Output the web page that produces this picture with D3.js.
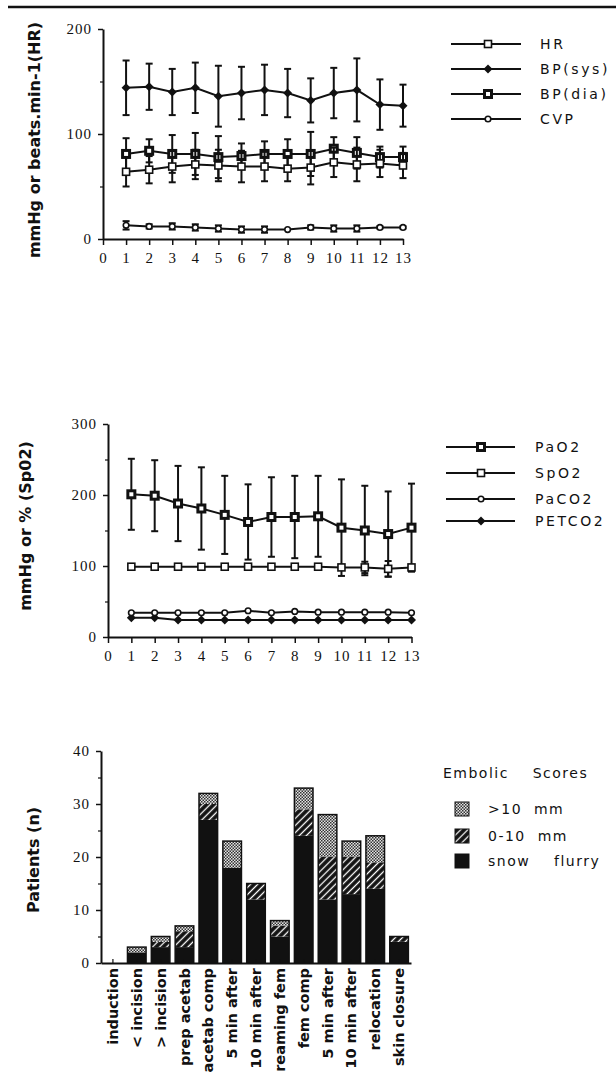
<!DOCTYPE html>
<html>
<head>
<meta charset="utf-8">
<script src="https://cdn.jsdelivr.net/npm/d3@7/dist/d3.min.js"></script>
<style>
  body { margin: 0; background: #fff; }
  svg { display: block; }
</style>
</head>
<body>
<svg id="chart"></svg>
<script>
// ---- data ----
const timePoints = [1, 2, 3, 4, 5, 6, 7, 8, 9, 10, 11, 12, 13];
const xTickValues = [0, 1, 2, 3, 4, 5, 6, 7, 8, 9, 10, 11, 12, 13];

// haemodynamics
const hrMean  = [64, 66, 69, 71, 70, 69, 69, 67, 68, 73, 71, 72, 70];
const hrErr   = [14, 13, 15, 14, 15, 15, 14, 12, 16, 14, 16, 13, 12];
const sysMean = [144, 145, 140, 144, 136, 139, 142, 139, 132, 139, 142, 128, 127];
const sysErr  = [26, 22, 22, 24, 29, 25, 24, 23, 21, 24, 30, 24, 20];
const diaMean = [81, 84, 81, 81, 78, 79, 81, 81, 81, 86, 82, 78, 78];
const diaErr  = [15, 11, 18, 20, 20, 12, 12, 14, 21, 11, 15, 10, 10];
const cvpMean = [13, 12, 12, 11, 10, 9, 9, 9, 11, 10, 10, 11, 11];
const cvpErr  = [4, 2, 3, 3, 3, 3, 3, 0, 2, 3, 3, 1, 1];
const topTicks = [0, 100, 200];
const topMinor = [50, 150];

// gases
const pao2Mean   = [201, 199, 188, 181, 172, 162, 169, 169, 170, 154, 150, 145, 154];
const pao2Err    = [50, 50, 53, 58, 55, 53, 56, 58, 57, 68, 63, 60, 62];
const spo2Mean   = [99, 99, 99, 99, 99, 99, 99, 99, 99, 98, 98, 96, 98];
const spo2Err    = [0, 0, 0, 0, 0, 0, 0, 0, 0, 3, 8, 11, 3];
const paco2Mean  = [34, 34, 34, 34, 34, 37, 34, 36, 35, 35, 35, 35, 34];
const petco2Mean = [27, 27, 24, 24, 24, 24, 24, 24, 24, 24, 24, 24, 24];
const midTicks = [0, 100, 200, 300];
const midMinor = [50, 150, 250];

// embolic scores
const stages = ["induction", "< incision", "> incision", "prep acetab", "acetab comp",
  "5 min after", "10 min after", "reaming fem", "fem comp", "5 min after",
  "10 min after", "relocation", "skin closure"];
const snowFlurry  = [0, 2, 3, 3, 27, 18, 12, 5, 24, 12, 13, 14, 4];
const score0to10  = [0, 0, 1, 3, 3, 0, 3, 2, 5, 8, 7, 5, 1];
const scoreOver10 = [0, 1, 1, 1, 2, 5, 0, 1, 4, 8, 3, 5, 0];
const barTicks = [0, 10, 20, 30, 40];
const barMinor = [5, 15, 25, 35];

// ---- setup ----
const width = 616, height = 1081;
const svg = d3.select("#chart").attr("width", width).attr("height", height);

const serif = "'Liberation Serif', 'DejaVu Serif', serif";
const sans = "'DejaVu Sans', sans-serif";

// patterns for stacked bars
const defs = svg.append("defs");
const hatch = defs.append("pattern").attr("id", "hatch")
  .attr("patternUnits", "userSpaceOnUse").attr("width", 5).attr("height", 5)
  .attr("patternTransform", "rotate(45)");
hatch.append("rect").attr("width", 5).attr("height", 5).attr("fill", "#111");
hatch.append("line").attr("x1", 2.5).attr("x2", 2.5).attr("y1", 0).attr("y2", 5)
  .attr("stroke", "#fff").attr("stroke-width", 1.3);

const stipple = defs.append("pattern").attr("id", "stipple")
  .attr("patternUnits", "userSpaceOnUse").attr("width", 3).attr("height", 3);
stipple.append("rect").attr("width", 3).attr("height", 3).attr("fill", "#e4e4e4");
stipple.append("rect").attr("width", 1.5).attr("height", 1.5).attr("fill", "#333");
stipple.append("rect").attr("x", 1.5).attr("y", 1.5).attr("width", 1.5).attr("height", 1.5).attr("fill", "#333");

// rule at the very top
svg.append("line").attr("x1", 8).attr("x2", width).attr("y1", 7).attr("y2", 7)
  .attr("stroke", "#111").attr("stroke-width", 2.5);

// marker helper
function addMarker(sel, type) {
  if (type === "open") {
    sel.append("rect").attr("x", -3.5).attr("y", -3.5).attr("width", 7).attr("height", 7)
      .attr("fill", "#fff").attr("stroke", "#111").attr("stroke-width", 1.6);
  } else if (type === "bold") {
    sel.append("rect").attr("x", -3.5).attr("y", -3.5).attr("width", 7).attr("height", 7)
      .attr("fill", "#fff").attr("stroke", "#111").attr("stroke-width", 3);
  } else if (type === "diamond") {
    sel.append("path").attr("d", "M0,-4.5L4.5,0L0,4.5L-4.5,0Z").attr("fill", "#111");
  } else {
    sel.append("circle").attr("r", 2.8).attr("fill", "#fff")
      .attr("stroke", "#111").attr("stroke-width", 1.6);
  }
}

function drawSeries(g, x, y, means, errs, type) {
  const pts = timePoints.map((t, i) => ({ t: t, v: means[i], e: errs ? errs[i] : 0 }));
  const eb = g.append("g").selectAll("g").data(pts.filter(d => d.e > 0)).enter().append("g")
    .attr("stroke", "#111").attr("stroke-width", 2);
  eb.append("line").attr("x1", d => x(d.t)).attr("x2", d => x(d.t))
    .attr("y1", d => y(d.v - d.e)).attr("y2", d => y(d.v + d.e));
  eb.append("line").attr("x1", d => x(d.t) - 3.5).attr("x2", d => x(d.t) + 3.5)
    .attr("y1", d => y(d.v + d.e)).attr("y2", d => y(d.v + d.e));
  eb.append("line").attr("x1", d => x(d.t) - 3.5).attr("x2", d => x(d.t) + 3.5)
    .attr("y1", d => y(d.v - d.e)).attr("y2", d => y(d.v - d.e));

  g.append("path").datum(pts)
    .attr("fill", "none").attr("stroke", "#111").attr("stroke-width", 2)
    .attr("d", d3.line().x(d => x(d.t)).y(d => y(d.v)));

  g.append("g").selectAll("g").data(pts).enter().append("g")
    .attr("transform", d => `translate(${x(d.t)},${y(d.v)})`)
    .each(function() { addMarker(d3.select(this), type); });
}

function styleAxis(ax) {
  ax.select(".domain").attr("stroke", "#111").attr("stroke-width", 2);
  ax.selectAll(".tick line").attr("stroke", "#111").attr("stroke-width", 1.5);
  ax.selectAll("text").style("font-family", serif).style("font-size", "15px")
    .style("letter-spacing", "1px").attr("fill", "#111");
}

function drawLineAxes(x, y, ticks, minor) {
  const gx = svg.append("g").attr("transform", `translate(0,${y(0)})`)
    .call(d3.axisBottom(x).tickValues(xTickValues).tickSize(6).tickSizeOuter(0).tickPadding(7));
  styleAxis(gx);
  const gy = svg.append("g").attr("transform", `translate(${x(0)},0)`)
    .call(d3.axisLeft(y).tickValues(ticks).tickSize(5).tickSizeOuter(0).tickPadding(6));
  styleAxis(gy);
  const gm = svg.append("g").attr("transform", `translate(${x(0)},0)`)
    .call(d3.axisLeft(y).tickValues(minor).tickSize(3).tickFormat(""));
  gm.select(".domain").remove();
  gm.selectAll(".tick line").attr("stroke", "#111").attr("stroke-width", 1.2);
}

function yLabel(text, bx, cy) {
  svg.append("text").attr("transform", `translate(${bx},${cy}) rotate(-90)`)
    .attr("text-anchor", "middle")
    .style("font-family", sans).style("font-weight", "bold").style("font-size", "16px")
    .attr("fill", "#111").text(text);
}

function legend(items, x1, x2, xm, xt, rows) {
  items.forEach((it, i) => {
    const g = svg.append("g");
    g.append("line").attr("x1", x1).attr("x2", x2).attr("y1", rows[i]).attr("y2", rows[i])
      .attr("stroke", "#111").attr("stroke-width", 2);
    addMarker(g.append("g").attr("transform", `translate(${xm},${rows[i]})`), it.type);
    g.append("text").attr("x", xt).attr("y", rows[i] + 5)
      .style("font-family", sans).style("font-size", "14px").style("letter-spacing", "2.6px")
      .attr("fill", "#111").text(it.name);
  });
}

// ---- chart 1: haemodynamics ----
const x1 = d3.scaleLinear().domain([0, 13]).range([103, 403]);
const y1 = d3.scaleLinear().domain([0, 200]).range([239, 29]);
drawLineAxes(x1, y1, topTicks, topMinor);
const g1 = svg.append("g");
drawSeries(g1, x1, y1, sysMean, sysErr, "diamond");
drawSeries(g1, x1, y1, diaMean, diaErr, "bold");
drawSeries(g1, x1, y1, hrMean, hrErr, "open");
drawSeries(g1, x1, y1, cvpMean, cvpErr, "circle");
yLabel("mmHg or beats.min-1(HR)", 40, 140);
legend([
  { name: "HR", type: "open" },
  { name: "BP(sys)", type: "diamond" },
  { name: "BP(dia)", type: "bold" },
  { name: "CVP", type: "circle" }
], 451, 521, 488, 540, [44, 69, 94, 119]);

// ---- chart 2: gases ----
const x2 = d3.scaleLinear().domain([0, 13]).range([108, 411.5]);
const y2 = d3.scaleLinear().domain([0, 300]).range([637, 424]);
drawLineAxes(x2, y2, midTicks, midMinor);
const g2 = svg.append("g");
drawSeries(g2, x2, y2, pao2Mean, pao2Err, "bold");
drawSeries(g2, x2, y2, spo2Mean, spo2Err, "open");
drawSeries(g2, x2, y2, petco2Mean, null, "diamond");
drawSeries(g2, x2, y2, paco2Mean, null, "circle");
yLabel("mmHg or % (Sp02)", 31, 526);
legend([
  { name: "PaO2", type: "bold" },
  { name: "SpO2", type: "open" },
  { name: "PaCO2", type: "circle" },
  { name: "PETCO2", type: "diamond" }
], 446, 515, 481, 535, [447, 473, 499, 521]);

// ---- chart 3: embolic scores ----
const x3 = d3.scaleBand().domain(d3.range(stages.length)).range([101, 411])
  .paddingInner(0.22).paddingOuter(0.11);
const y3 = d3.scaleLinear().domain([0, 40]).range([963, 751]);

const rows = stages.map((s, i) => ({ i: i, snow: snowFlurry[i], mid: score0to10[i], big: scoreOver10[i] }));
const keys = ["snow", "mid", "big"];
const fills = { snow: "#111", mid: "url(#hatch)", big: "url(#stipple)" };
const stacked = d3.stack().keys(keys)(rows);

const g3 = svg.append("g");
g3.selectAll("g.layer").data(stacked).enter().append("g").attr("class", "layer")
  .attr("fill", d => fills[d.key])
  .selectAll("rect").data(d => d).enter().append("rect")
  .attr("x", d => x3(d.data.i))
  .attr("y", d => y3(d[1]))
  .attr("width", x3.bandwidth())
  .attr("height", d => y3(d[0]) - y3(d[1]));

g3.selectAll("rect.outline").data(rows.filter(d => d.snow + d.mid + d.big > 0)).enter()
  .append("rect").attr("class", "outline")
  .attr("x", d => x3(d.i))
  .attr("y", d => y3(d.snow + d.mid + d.big))
  .attr("width", x3.bandwidth())
  .attr("height", d => y3(0) - y3(d.snow + d.mid + d.big))
  .attr("fill", "none").attr("stroke", "#111").attr("stroke-width", 1.5);

const gx3 = svg.append("g").attr("transform", `translate(0,${y3(0)})`)
  .call(d3.axisBottom(x3).tickSize(-4).tickSizeOuter(0).tickFormat(""));
gx3.select(".domain").attr("stroke", "#111").attr("stroke-width", 2.2);
gx3.selectAll(".tick line").attr("stroke", "#111").attr("stroke-width", 1.2);

svg.append("g").selectAll("text").data(stages).enter().append("text")
  .attr("transform", (d, i) => `translate(${x3(i) + x3.bandwidth() / 2},968) rotate(-90)`)
  .attr("text-anchor", "end").attr("dy", "0.35em")
  .style("font-family", sans).style("font-weight", "bold").style("font-size", "14.5px")
  .attr("fill", "#111").text(d => d);

const gy3 = svg.append("g").attr("transform", "translate(101,0)")
  .call(d3.axisLeft(y3).tickValues(barTicks).tickSize(5).tickSizeOuter(0).tickPadding(6));
styleAxis(gy3);
const gm3 = svg.append("g").attr("transform", "translate(101,0)")
  .call(d3.axisLeft(y3).tickValues(barMinor).tickSize(3).tickFormat(""));
gm3.select(".domain").remove();
gm3.selectAll(".tick line").attr("stroke", "#111").attr("stroke-width", 1.2);

yLabel("Patients (n)", 39, 860);

// legend for bars
svg.append("text").attr("x", 443).attr("y", 778)
  .style("font-family", sans).style("font-size", "14px").style("letter-spacing", "1.5px")
  .style("white-space", "pre").attr("fill", "#111").text("Embolic    Scores");
const legRows = [
  { name: ">10  mm", key: "big", y: 809 },
  { name: "0-10  mm", key: "mid", y: 836 },
  { name: "snow    flurry", key: "snow", y: 861 }
];
legRows.forEach(r => {
  svg.append("rect").attr("x", 455).attr("y", r.y - 7).attr("width", 14).attr("height", 14)
    .attr("fill", fills[r.key]).attr("stroke", "#111").attr("stroke-width", 1);
  svg.append("text").attr("x", 488).attr("y", r.y + 5)
    .style("font-family", sans).style("font-size", "14px").style("letter-spacing", "1.5px")
    .style("white-space", "pre").attr("fill", "#111").text(r.name);
});
</script>
</body>
</html>
